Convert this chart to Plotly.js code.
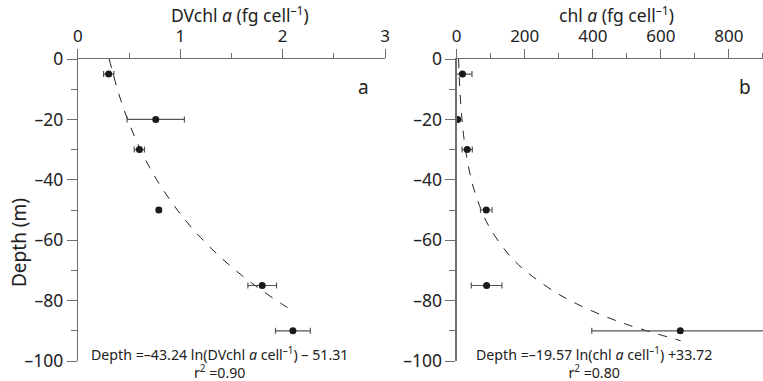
<!DOCTYPE html>
<html>
<head>
<meta charset="utf-8">
<script src="https://cdn.plot.ly/plotly-3.0.1.min.js"></script>
<style>html,body{margin:0;padding:0;background:#fff;}#chart{width:763px;height:381px;}</style>
</head>
<body>
<div id="chart"></div>
<script>
// Panel a: DVchl a per cell vs depth
const depthA = [-5, -20, -30, -50, -75, -90];
const dvchl = [0.30, 0.76, 0.60, 0.79, 1.80, 2.10];
const dvchlErr = [0.05, 0.28, 0.05, 0.02, 0.14, 0.17];
// fitted curve a
const fitAx = [0.305, 0.4, 0.5, 0.6, 0.7, 0.8, 1.0, 1.2, 1.4, 1.6, 1.8, 2.0, 2.1];
const fitAy = [0.0, -11.69, -21.34, -29.22, -35.89, -41.66, -51.31, -59.19, -65.86, -71.63, -76.73, -81.28, -83.39];

// Panel b: chl a per cell vs depth
const depthB = [-5, -20, -30, -50, -75, -90];
const chl = [17, 3, 31, 87, 88, 657];
const chlErr = [28, 2, 15, 17, 45, 260];
// fitted curve b
const fitBx = [5.6, 8, 10, 15, 20, 30, 40, 50, 75, 100, 150, 200, 300, 400, 500, 658];
const fitBy = [0.0, -6.97, -11.34, -19.28, -24.91, -32.84, -38.47, -42.84, -50.77, -56.40, -64.34, -69.97, -77.90, -83.53, -87.90, -93.27];

const xTicksA = [0, 1, 2, 3];
const xTicksB = [0, 200, 400, 600, 800];
const yTicks = [0, -20, -40, -60, -80, -100];
const yTickText = ['0', '–20', '–40', '–60', '–80', '–100'];

const axCol = '#6e6e6e';
const txtCol = '#222';
const FF = 'Noto Sans';

const traces = [
  {x: fitAx, y: fitAy, xaxis: 'x', yaxis: 'y', mode: 'lines', line: {color: '#222', width: 1, dash: 'dash', shape: 'spline'}, hoverinfo: 'skip'},
  {x: dvchl, y: depthA, xaxis: 'x', yaxis: 'y', mode: 'markers',
   marker: {color: '#1a1a1a', size: 7},
   error_x: {type: 'data', array: dvchlErr, visible: true, color: '#555', thickness: 1.2, width: 3}},
  {x: fitBx, y: fitBy, xaxis: 'x2', yaxis: 'y2', mode: 'lines', line: {color: '#222', width: 1, dash: 'dash', shape: 'spline'}, hoverinfo: 'skip'},
  {x: chl, y: depthB, xaxis: 'x2', yaxis: 'y2', mode: 'markers',
   marker: {color: '#1a1a1a', size: 7},
   error_x: {type: 'data', array: chlErr, visible: true, color: '#555', thickness: 1.2, width: 3}}
];

function xax(domain, range, ticks, minorD, anchor) {
  return {domain: domain, range: range, side: 'top', anchor: anchor,
    tickvals: ticks, ticktext: ticks.map(String), ticks: 'outside', ticklen: 9, tickcolor: axCol, tickwidth: 1,
    minor: {dtick: minorD, ticks: 'outside', ticklen: 5, tickcolor: axCol, showgrid: false},
    showline: true, linecolor: axCol, linewidth: 1.2, showgrid: false, zeroline: false,
    tickfont: {family: FF, size: 17, color: txtCol}, fixedrange: true};
}
function yax(anchor) {
  return {domain: [0, 1], range: [-100, 0], anchor: anchor,
    tickvals: yTicks, ticktext: yTickText, ticks: 'outside', ticklen: 10, tickcolor: axCol, tickwidth: 1,
    minor: {dtick: 10, ticks: 'outside', ticklen: 6, tickcolor: axCol, showgrid: false},
    showline: true, linecolor: axCol, linewidth: 1.2, showgrid: false, zeroline: false,
    tickfont: {family: FF, size: 17.5, color: txtCol}, fixedrange: true};
}

function ann(text, xpx, ypx, size, extra) {
  return Object.assign({text: text, xref: 'paper', yref: 'paper', x: xpx / 763, y: (361 - ypx) / 302,
    showarrow: false, xanchor: 'center', yanchor: 'middle', align: 'center', font: {family: FF, size: size, color: txtCol}}, extra || {});
}

const layout = {
  width: 763, height: 381,
  margin: {l: 0, r: 0, t: 59, b: 20, pad: 0},
  paper_bgcolor: '#fff', plot_bgcolor: '#fff',
  showlegend: false,
  font: {family: FF, size: 13, color: txtCol},
  xaxis: xax([0.1022, 0.5046], [0, 3], xTicksA, 0.5, 'y'),
  yaxis: yax('x'),
  xaxis2: xax([0.5985, 1.0], [0, 900], xTicksB, 100, 'y2'),
  yaxis2: yax('x2'),
  annotations: [
    ann('DVchl <i>a</i> (fg cell<sup>–1</sup>)', 240, 15, 17.5),
    ann('chl <i>a</i> (fg cell<sup>–1</sup>)', 616, 15, 17.5),
    ann('Depth (m)', 19, 243, 19, {textangle: -90}),
    ann('a', 363, 87, 19),
    ann('b', 745, 87, 19),
    ann('Depth =–43.24 ln(DVchl <i>a</i> cell<sup>–1</sup>) – 51.31<br>r<sup>2</sup> =0.90', 220, 362.5, 14.2),
    ann('Depth =–19.57 ln(chl <i>a</i> cell<sup>–1</sup>) +33.72<br>r<sup>2</sup> =0.80', 594, 362.5, 14.2)
  ]
};

Plotly.newPlot('chart', traces, layout, {staticPlot: true, displayModeBar: false});
</script>
</body>
</html>
